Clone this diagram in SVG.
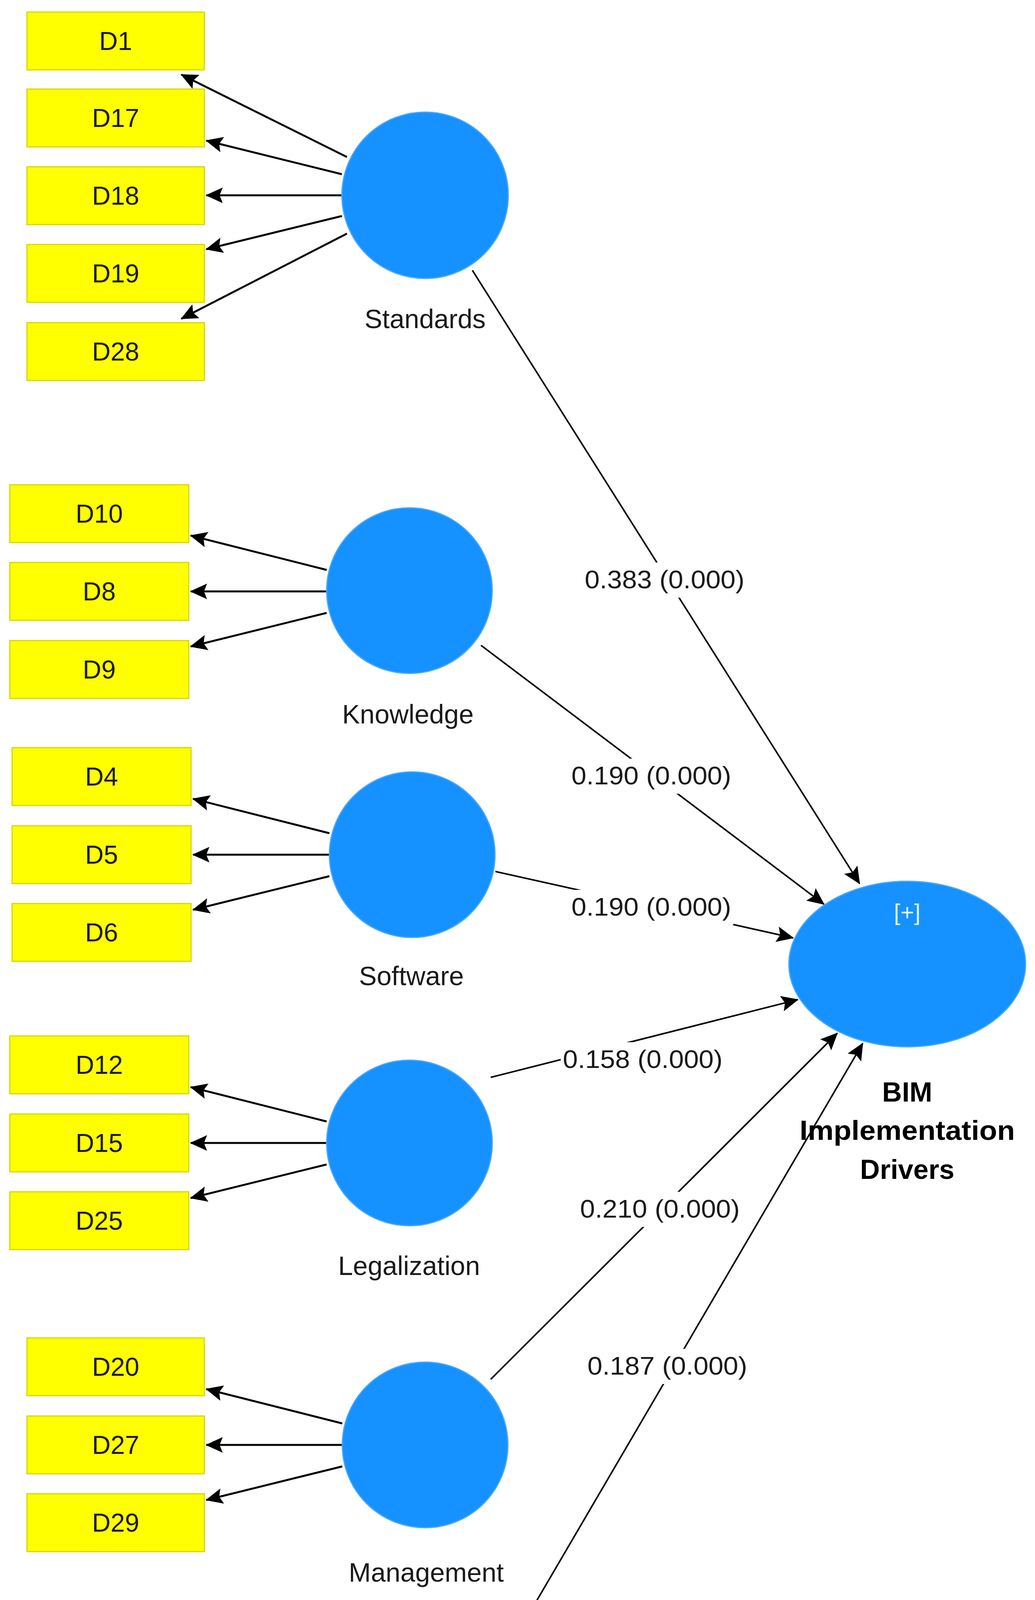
<svg xmlns="http://www.w3.org/2000/svg" width="2649" height="4870" viewBox="0 0 2649 4870">
<defs>
<style>
.box{fill:#FFFF00;stroke:#D6D600;stroke-width:3}
.lv{fill:#1592FF;stroke:#4BA8FF;stroke-width:3}
.bt{font-family:"Liberation Sans",Arial,sans-serif;font-size:66px;fill:#1a1a1a;text-anchor:middle}
.nt{font-family:"Liberation Sans",Arial,sans-serif;font-size:68px;fill:#1a1a1a;text-anchor:middle}
.et{font-family:"Liberation Sans",Arial,sans-serif;font-size:64px;fill:#1a1a1a;text-anchor:middle}
.bold{font-family:"Liberation Sans",Arial,sans-serif;font-size:70px;font-weight:bold;fill:#000;text-anchor:middle}
.ln{stroke:#000;stroke-width:5;fill:none;marker-end:url(#ah)}
.pl{stroke:#000;stroke-width:4;fill:none;marker-end:url(#ah)}
</style>
<marker id="ah" markerUnits="userSpaceOnUse" markerWidth="44" markerHeight="40" refX="42" refY="20" orient="auto" viewBox="0 0 44 40">
<path d="M0,0 L44,20 L0,40 L8,20 Z" fill="#000"/>
</marker>
</defs>
<rect width="2649" height="4870" fill="#fff"/>
<g id="connectors">
<line class="ln" x1="888" y1="402" x2="464" y2="191"/>
<line class="ln" x1="875" y1="446" x2="528" y2="360"/>
<line class="ln" x1="875" y1="500" x2="528" y2="500"/>
<line class="ln" x1="875" y1="553" x2="528" y2="638"/>
<line class="ln" x1="888" y1="598" x2="464" y2="816"/>
<line class="ln" x1="836" y1="1459" x2="488" y2="1371"/>
<line class="ln" x1="836" y1="1514" x2="488" y2="1514"/>
<line class="ln" x1="836" y1="1569" x2="488" y2="1655"/>
<line class="ln" x1="843" y1="2133" x2="494" y2="2045"/>
<line class="ln" x1="843" y1="2188" x2="494" y2="2188"/>
<line class="ln" x1="843" y1="2243" x2="494" y2="2329"/>
<line class="ln" x1="836" y1="2871" x2="488" y2="2783"/>
<line class="ln" x1="836" y1="2926" x2="488" y2="2926"/>
<line class="ln" x1="836" y1="2981" x2="488" y2="3067"/>
<line class="ln" x1="876" y1="3644" x2="528" y2="3556"/>
<line class="ln" x1="876" y1="3699" x2="528" y2="3699"/>
<line class="ln" x1="876" y1="3754" x2="528" y2="3840"/>
<line class="ln" x1="920" y1="4438" x2="575" y2="4350"/>
<line class="ln" x1="920" y1="4493" x2="575" y2="4493"/>
<line class="ln" x1="920" y1="4548" x2="575" y2="4634"/>
<line class="pl" x1="1209" y1="692" x2="2200" y2="2262"/>
<line class="pl" x1="1231" y1="1652" x2="2109" y2="2315"/>
<line class="pl" x1="1268" y1="2231" x2="2030" y2="2401"/>
<line class="pl" x1="1256" y1="2758" x2="2042" y2="2559"/>
<line class="pl" x1="1256" y1="3531" x2="2143" y2="2645"/>
<line class="pl" x1="1246" y1="4316" x2="2208" y2="2671"/>
<g fill="#fff">
<rect x="1491" y="1440" width="420" height="90"/>
<rect x="1457" y="1942" width="420" height="90"/>
<rect x="1457" y="2278" width="420" height="90"/>
<rect x="1435" y="2668" width="420" height="90"/>
<rect x="1479" y="3051" width="420" height="90"/>
<rect x="1498" y="3453" width="420" height="90"/>
</g>
<text class="et" x="1701" y="1506" textLength="409" lengthAdjust="spacingAndGlyphs">0.383 (0.000)</text>
<text class="et" x="1667" y="2008" textLength="409" lengthAdjust="spacingAndGlyphs">0.190 (0.000)</text>
<text class="et" x="1667" y="2344" textLength="409" lengthAdjust="spacingAndGlyphs">0.190 (0.000)</text>
<text class="et" x="1645" y="2734" textLength="409" lengthAdjust="spacingAndGlyphs">0.158 (0.000)</text>
<text class="et" x="1689" y="3117" textLength="409" lengthAdjust="spacingAndGlyphs">0.210 (0.000)</text>
<text class="et" x="1708" y="3519" textLength="409" lengthAdjust="spacingAndGlyphs">0.187 (0.000)</text>
</g>
<g id="D1"><rect class="box" x="69" y="31" width="454" height="148"/><text class="bt" x="296" y="128">D1</text></g>
<g id="D17"><rect class="box" x="69" y="228" width="454" height="148"/><text class="bt" x="296" y="325">D17</text></g>
<g id="D18"><rect class="box" x="69" y="427" width="454" height="148"/><text class="bt" x="296" y="524">D18</text></g>
<g id="D19"><rect class="box" x="69" y="626" width="454" height="148"/><text class="bt" x="296" y="723">D19</text></g>
<g id="D28"><rect class="box" x="69" y="826" width="454" height="148"/><text class="bt" x="296" y="923">D28</text></g>
<g id="D10"><rect class="box" x="25" y="1241" width="458" height="148"/><text class="bt" x="254" y="1338">D10</text></g>
<g id="D8"><rect class="box" x="25" y="1440" width="458" height="148"/><text class="bt" x="254" y="1537">D8</text></g>
<g id="D9"><rect class="box" x="25" y="1640" width="458" height="148"/><text class="bt" x="254" y="1737">D9</text></g>
<g id="D4"><rect class="box" x="31" y="1914" width="458" height="148"/><text class="bt" x="260" y="2011">D4</text></g>
<g id="D5"><rect class="box" x="31" y="2114" width="458" height="148"/><text class="bt" x="260" y="2211">D5</text></g>
<g id="D6"><rect class="box" x="31" y="2313" width="458" height="148"/><text class="bt" x="260" y="2410">D6</text></g>
<g id="D12"><rect class="box" x="25" y="2652" width="458" height="148"/><text class="bt" x="254" y="2749">D12</text></g>
<g id="D15"><rect class="box" x="25" y="2852" width="458" height="148"/><text class="bt" x="254" y="2949">D15</text></g>
<g id="D25"><rect class="box" x="25" y="3051" width="458" height="148"/><text class="bt" x="254" y="3148">D25</text></g>
<g id="D20"><rect class="box" x="69" y="3425" width="454" height="148"/><text class="bt" x="296" y="3522">D20</text></g>
<g id="D27"><rect class="box" x="69" y="3625" width="454" height="148"/><text class="bt" x="296" y="3722">D27</text></g>
<g id="D29"><rect class="box" x="69" y="3824" width="454" height="148"/><text class="bt" x="296" y="3921">D29</text></g>
<g id="D11"><rect class="box" x="112" y="4220" width="458" height="148"/><text class="bt" x="341" y="4317">D11</text></g>
<g id="D22"><rect class="box" x="112" y="4419" width="458" height="148"/><text class="bt" x="341" y="4516">D22</text></g>
<g id="D7"><rect class="box" x="112" y="4619" width="458" height="148"/><text class="bt" x="341" y="4716">D7</text></g>
<g id="Standards"><circle class="lv" cx="1088" cy="500" r="213"/><text class="nt" x="1088" y="840">Standards</text></g>
<g id="Knowledge"><circle class="lv" cx="1048" cy="1512" r="212"/><text class="nt" x="1044" y="1852">Knowledge</text></g>
<g id="Software"><circle class="lv" cx="1055" cy="2188" r="212"/><text class="nt" x="1053" y="2522">Software</text></g>
<g id="Legalization"><circle class="lv" cx="1048" cy="2926" r="212"/><text class="nt" x="1047" y="3264">Legalization</text></g>
<g id="Management"><circle class="lv" cx="1088" cy="3699" r="212"/><text class="nt" x="1091" y="4049">Management</text></g>
<g id="Training"><circle class="lv" cx="1132" cy="4493" r="212"/><text class="nt" x="1140" y="4747">Training</text></g>
<g id="BIM"><ellipse class="lv" cx="2322" cy="2468" rx="303" ry="212"/>
<text x="2322" y="2356" style="font-family:'Liberation Sans',Arial,sans-serif;font-size:60px;fill:#E6F2FF;text-anchor:middle">[+]</text>
<text class="bold" x="2322" y="2820">BIM</text>
<text class="bold" x="2322" y="2918" textLength="551" lengthAdjust="spacingAndGlyphs">Implementation</text>
<text class="bold" x="2322" y="3018">Drivers</text></g>
</svg>
